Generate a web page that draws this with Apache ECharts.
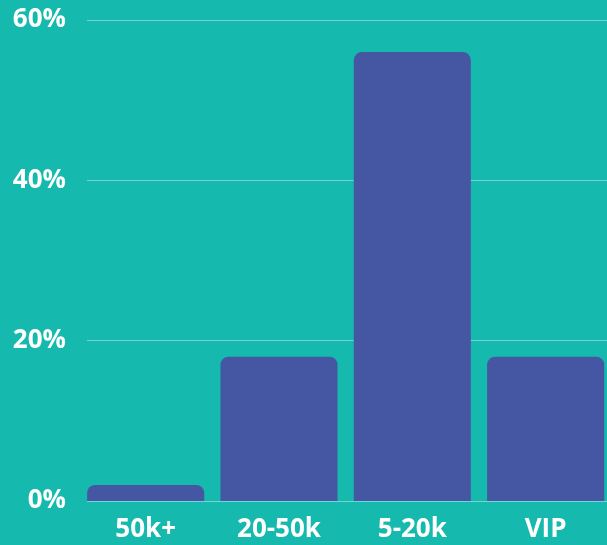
<!DOCTYPE html>
<html><head><meta charset="utf-8">
<style>html,body{margin:0;padding:0;background:#15b9ad;}#c{width:607px;height:545px;}</style>
<script src="https://cdn.jsdelivr.net/npm/echarts@6/dist/echarts.min.js"></script>
</head><body><div id="c"></div>
<script>
const categories = ['50k+', '20-50k', '5-20k', 'VIP'];
const values = [2, 18, 56, 18];
const yTicks = [0, 20, 40, 60];

const chart = echarts.init(document.getElementById('c'));
const font = '"Open Sans", "Noto Sans", sans-serif';
chart.setOption({
  backgroundColor: '#15b9ad',
  animation: false,
  grid: [
    {left: 87, right: 0, top: 20, bottom: 44, outerBoundsMode: 'none'},
    {left: 79, right: -5.3, top: 20, bottom: 44, outerBoundsMode: 'none'}
  ],
  xAxis: [
    {gridIndex: 0, type: 'value', show: false, min: 0, max: 1},
    {gridIndex: 1, type: 'category', data: categories,
     axisLine: {show: false}, axisTick: {show: false},
     axisLabel: {color: '#ffffff', fontFamily: font, fontWeight: 'bold', fontSize: 26, margin: 16}}
  ],
  yAxis: [
    {gridIndex: 0, type: 'value', min: yTicks[0], max: yTicks[yTicks.length-1], interval: 20,
     axisLine: {show: false}, axisTick: {show: false},
     splitLine: {lineStyle: {color: 'rgba(255,255,255,0.4)', width: 1}},
     axisLabel: {color: '#ffffff', fontFamily: font, fontWeight: 'bold', fontSize: 26, margin: 21,
       formatter: v => v + '%'}},
    {gridIndex: 1, type: 'value', min: 0, max: 60, show: false}
  ],
  series: [{
    type: 'bar', xAxisIndex: 1, yAxisIndex: 1, data: values,
    barCategoryGap: '12.2%',
    itemStyle: {color: '#4557a3', borderRadius: [8, 8, 0, 0]}
  }]
});
</script></body></html>
